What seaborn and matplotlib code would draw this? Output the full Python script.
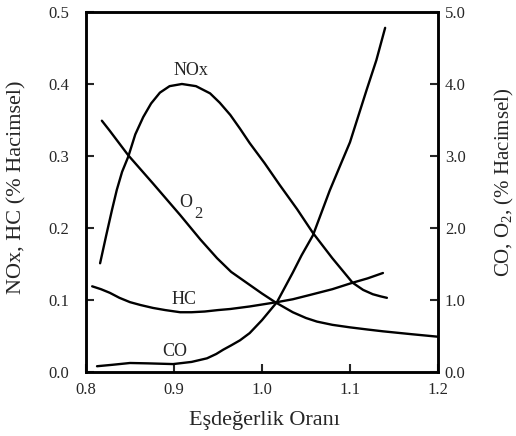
import matplotlib
matplotlib.use('Agg')
import matplotlib.pyplot as plt
import seaborn as sns

# degerler (sol eksen: NOx, HC ; sag eksen: CO, O2)
nox_x = [0.816, 0.823, 0.8295, 0.835, 0.841, 0.848, 0.856, 0.865, 0.874, 0.884, 0.895, 0.909,
         0.925, 0.941, 0.952, 0.964, 0.975, 0.986, 1.003, 1.020, 1.040, 1.058, 1.080, 1.103,
         1.115, 1.126, 1.135, 1.142]
nox_y = [0.151, 0.190, 0.225, 0.253, 0.278, 0.299, 0.330, 0.354, 0.373, 0.388, 0.397, 0.400,
         0.397, 0.387, 0.374, 0.357, 0.338, 0.318, 0.290, 0.260, 0.226, 0.193, 0.158, 0.124,
         0.114, 0.108, 0.105, 0.103]

hc_x = [0.807, 0.817, 0.827, 0.838, 0.850, 0.862, 0.876, 0.890, 0.907, 0.920, 0.935, 0.950,
        0.964, 0.986, 1.017, 1.035, 1.0545, 1.080, 1.103, 1.120, 1.1375]
hc_y = [0.119, 0.115, 0.110, 0.103, 0.097, 0.093, 0.089, 0.086, 0.083, 0.083, 0.084, 0.086,
        0.0875, 0.091, 0.097, 0.101, 0.107, 0.115, 0.124, 0.130, 0.1375]

o2_x = [0.818, 0.827, 0.848, 0.876, 0.907, 0.930, 0.949, 0.965, 0.986, 1.000, 1.015, 1.035,
        1.050, 1.0625, 1.080, 1.100, 1.120, 1.1375, 1.170, 1.200]
o2_y = [3.49, 3.35, 3.01, 2.62, 2.18, 1.84, 1.58, 1.39, 1.21, 1.09, 0.97, 0.83,
        0.75, 0.70, 0.655, 0.62, 0.59, 0.565, 0.525, 0.49]

co_x = [0.8125, 0.830, 0.850, 0.870, 0.899, 0.920, 0.9375, 0.948, 0.956, 0.965, 0.975, 0.986,
        1.000, 1.017, 1.035, 1.045, 1.058, 1.077, 1.090, 1.100, 1.119, 1.130, 1.140]
co_y = [0.08, 0.10, 0.125, 0.12, 0.11, 0.14, 0.19, 0.25, 0.31, 0.37, 0.44, 0.54,
        0.72, 0.97, 1.38, 1.62, 1.90, 2.52, 2.90, 3.19, 3.92, 4.33, 4.78]

x_ticks = [0.8, 0.9, 1.0, 1.1, 1.2]
sol_ticks = [0.0, 0.1, 0.2, 0.3, 0.4, 0.5]
sag_ticks = [0.0, 1.0, 2.0, 3.0, 4.0, 5.0]

sns.set_style('ticks')
plt.rcParams['font.family'] = ['Liberation Serif', 'DejaVu Serif']
plt.rcParams['mathtext.default'] = 'regular'

fig = plt.figure(figsize=(5.16, 4.36), dpi=100)
ax = fig.add_axes([0.1667, 0.1468, 0.682, 0.8257])
ax2 = ax.twinx()

sns.lineplot(x=nox_x, y=nox_y, ax=ax, color='black', lw=1.7, sort=False, estimator=None)
sns.lineplot(x=hc_x, y=hc_y, ax=ax, color='black', lw=1.7, sort=False, estimator=None)
sns.lineplot(x=o2_x, y=o2_y, ax=ax2, color='black', lw=1.7, sort=False, estimator=None)
sns.lineplot(x=co_x, y=co_y, ax=ax2, color='black', lw=1.7, sort=False, estimator=None)

ax.set_xlim(0.8, 1.2)
ax.set_ylim(0, 0.5)
ax2.set_ylim(0, 5.0)

ax.set_xticks(x_ticks)
ax.set_xticklabels([f'{v:.1f}' for v in x_ticks])
ax.set_yticks(sol_ticks)
ax.set_yticklabels([f'{v:.1f}' for v in sol_ticks])
ax2.set_yticks(sag_ticks)
ax2.set_yticklabels([f'{v:.1f}' for v in sag_ticks])

ax.tick_params(axis='x', direction='in', length=6, width=1.5, labelsize=12, pad=7)
ax.tick_params(axis='y', direction='in', length=6, width=1.5, labelsize=12, pad=12)
ax2.tick_params(axis='y', direction='in', length=6, width=1.5, labelsize=12, pad=5)

for a in (ax, ax2):
    for s in a.spines.values():
        s.set_linewidth(1.8)
        s.set_color('black')

# egri etiketleri
ax.text(0.919, 0.419, 'NOx', fontsize=13, ha='center', va='center')
ax.text(0.9135, 0.235, 'O', fontsize=13, ha='center', va='center')
ax.text(0.928, 0.219, '2', fontsize=12, ha='center', va='center')
ax.text(0.911, 0.101, 'HC', fontsize=13, ha='center', va='center')
ax.text(0.9006, 0.0285, 'CO', fontsize=13, ha='center', va='center')

ax.set_xlabel('Eşdeğerlik Oranı', fontsize=16)
ax.set_ylabel('NOx, HC (% Hacimsel)', fontsize=16)
ax2.set_ylabel(r'CO, O$_{2}$, (% Hacimsel)', fontsize=15)
ax.xaxis.set_label_coords(0.506, -0.108)
ax.yaxis.set_label_coords(-0.168, 0.514)
ax2.yaxis.set_label_coords(1.155, 0.528)

fig.savefig('out.png', dpi=100)
